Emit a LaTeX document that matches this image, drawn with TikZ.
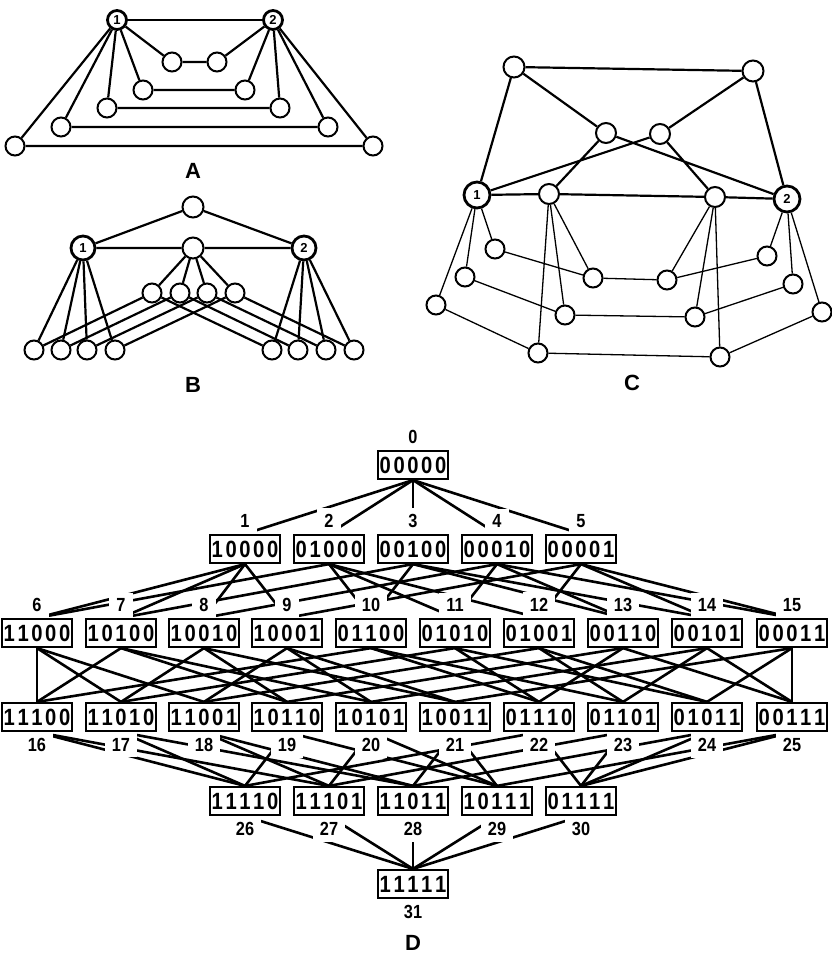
\documentclass[tikz,border=0pt]{standalone}
\usepackage{fontspec}
\setmainfont{Liberation Sans}
\newfontfamily\dfont[FakeStretch=0.86]{Liberation Sans Bold}
\newcommand\bitstr[5]{#1\kern2.6pt#2\kern2.6pt#3\kern2.6pt#4\kern2.6pt#5}
\pgfdeclarelayer{edgelayer}
\pgfdeclarelayer{masklayer}
\pgfsetlayers{edgelayer,masklayer,main}
\begin{document}
\begin{tikzpicture}[x=1pt,y=-1pt,
  vtx/.style={circle,draw,line width=2pt,minimum size=19pt,inner sep=0pt,fill=white},
  nvtx/.style={vtx,line width=2.8pt,font=\bfseries\fontsize{13}{13}\selectfont},
  ea/.style={line width=2.2pt},
  eb/.style={line width=1.3pt},
  captext/.style={font=\bfseries\fontsize{22}{22}\selectfont},
  bx/.style={draw,line width=2.2pt,fill=white,minimum width=70pt,minimum height=28pt,inner sep=0pt,font=\dfont\fontsize{23.5}{23.5}\selectfont},
  lab/.style={fill=white,inner xsep=7pt,inner ysep=6pt,font=\dfont\fontsize{19}{19}\selectfont},
  dl/.style={line width=2.6pt},
]
\useasboundingbox (0,0) rectangle (831,955);

% ---------------- A ----------------
\node[nvtx] (a1) at (117,20) {1};
\node[nvtx] (a2) at (273,20) {2};
\node[vtx] (al1) at (172,62) {};  \node[vtx] (ar1) at (217,62) {};
\node[vtx] (al2) at (143,90) {};  \node[vtx] (ar2) at (245,90) {};
\node[vtx] (al3) at (107,108) {}; \node[vtx] (ar3) at (280,108) {};
\node[vtx] (al4) at (61,127) {};  \node[vtx] (ar4) at (328,127) {};
\node[vtx] (al5) at (15,146) {};  \node[vtx] (ar5) at (373,146) {};
\node[captext] (capA) at (193,171) {A};
\begin{pgfonlayer}{edgelayer}
\draw[ea] (a1)--(a2);
\foreach \k in {1,...,5} \draw[ea] (a1)--(al\k) (al\k)--(ar\k) (ar\k)--(a2);
\end{pgfonlayer}

% ---------------- B ----------------
\node[vtx,minimum size=21pt] (bt) at (193,207) {};
\node[nvtx,minimum size=24pt] (b1) at (83,248) {1};
\node[nvtx,minimum size=24pt] (b2) at (304,248) {2};
\node[vtx,minimum size=21pt] (bc) at (193,248) {};
\foreach \k/\x in {1/152,2/180,3/207,4/235} \node[vtx] (bm\k) at (\x,293) {};
\foreach \k/\x in {1/34,2/61,3/87,4/115} \node[vtx] (bl\k) at (\x,350) {};
\foreach \k/\x in {1/272,2/298,3/326,4/354} \node[vtx] (br\k) at (\x,350) {};
\node[captext] (capB) at (193,385) {B};
\begin{pgfonlayer}{edgelayer}
\draw[ea] (bt)--(b1) (bt)--(b2) (b1)--(bc) (bc)--(b2);
\foreach \k in {1,...,4}
  \draw[ea] (bc)--(bm\k) (b1)--(bl\k) (b2)--(br\k) (bm\k)--(bl\k) (bm\k)--(br\k);
\end{pgfonlayer}

% ---------------- C ----------------
\node[vtx,minimum size=21pt] (ctl) at (514,67) {};
\node[vtx,minimum size=21pt] (ctr) at (753,71) {};
\node[vtx,minimum size=20pt] (cml) at (606,133) {};
\node[vtx,minimum size=20pt] (cmr) at (660,134) {};
\node[nvtx,minimum size=26pt] (cn1) at (477,195) {1};
\node[nvtx,minimum size=26pt] (cn2) at (787,199) {2};
\node[vtx,minimum size=20pt] (cil) at (549,194) {};
\node[vtx,minimum size=20pt] (cir) at (715,197) {};
\node[vtx] (ca1) at (495,249) {}; \node[vtx] (ca2) at (593,278) {};
\node[vtx] (ca3) at (667,280) {}; \node[vtx] (ca4) at (767,256) {};
\node[vtx] (cb1) at (465,277) {}; \node[vtx] (cb2) at (565,315) {};
\node[vtx] (cb3) at (695,317) {}; \node[vtx] (cb4) at (793,284) {};
\node[vtx] (cc1) at (436,305) {}; \node[vtx] (cc2) at (538,353) {};
\node[vtx] (cc3) at (720,357) {}; \node[vtx] (cc4) at (822,312) {};
\node[captext] (capC) at (632,383) {C};
\begin{pgfonlayer}{edgelayer}
\draw[ea] (ctl)--(ctr) (ctl)--(cn1) (ctr)--(cn2) (ctl)--(cml) (cml)--(cn2)
  (ctr)--(cmr) (cmr)--(cn1) (cml)--(cil) (cmr)--(cir)
  (cn1)--(cil) (cil)--(cir) (cir)--(cn2);
\foreach \r in {a,b,c}
  \draw[eb] (cn1)--(c\r1) (cil)--(c\r2) (cir)--(c\r3) (cn2)--(c\r4)
    (c\r1)--(c\r2)--(c\r3)--(c\r4);
\end{pgfonlayer}

% ---------------- D ----------------
\node[bx] (n0) at (413,465) {\bitstr00000};
\foreach \i/\x/\t in {1/245/10000,2/329/01000,3/413/00100,4/497/00010,5/581/00001}
  \node[bx] (n\i) at (\x,549) {\expandafter\bitstr\t};
\foreach \i/\x/\t in {6/37/11000,7/121/10100,8/204/10010,9/287/10001,10/371/01100,
    11/455/01010,12/539/01001,13/623/00110,14/707/00101,15/792/00011}
  \node[bx] (n\i) at (\x,633) {\expandafter\bitstr\t};
\foreach \i/\x/\t in {16/37/11100,17/121/11010,18/204/11001,19/287/10110,20/371/10101,
    21/455/10011,22/539/01110,23/623/01101,24/707/01011,25/792/00111}
  \node[bx] (n\i) at (\x,717) {\expandafter\bitstr\t};
\foreach \i/\x/\t in {26/245/11110,27/329/11101,28/413/11011,29/497/10111,30/581/01111}
  \node[bx] (n\i) at (\x,801) {\expandafter\bitstr\t};
\node[bx] (n31) at (413,884) {\bitstr11111};
\node[captext] (capD) at (413,943) {D};

\begin{pgfonlayer}{masklayer}
\foreach \i in {0,...,15} \node[lab,anchor=south] (l\i) at (n\i.north) {\i};
\foreach \i in {16,...,31} \node[lab,anchor=north] (l\i) at (n\i.south) {\i};
\end{pgfonlayer}

\begin{pgfonlayer}{edgelayer}
\foreach \a/\bs in {0/{1,2,3,4,5},
    1/{6,7,8,9},2/{6,10,11,12},3/{7,10,13,14},4/{8,11,13,15},5/{9,12,14,15},
    6/{16,17,18},7/{16,19,20},8/{17,19,21},9/{18,20,21},10/{16,22,23},
    11/{17,22,24},12/{18,23,24},13/{19,22,25},14/{20,23,25},15/{21,24,25},
    16/{26,27},17/{26,28},18/{27,28},19/{26,29},20/{27,29},
    21/{28,29},22/{26,30},23/{27,30},24/{28,30},25/{29,30},
    26/{31},27/{31},28/{31},29/{31},30/{31}}
  \foreach \b in \bs \draw[dl] (n\a.south) -- (n\b.north);
\end{pgfonlayer}
\end{tikzpicture}
\end{document}
